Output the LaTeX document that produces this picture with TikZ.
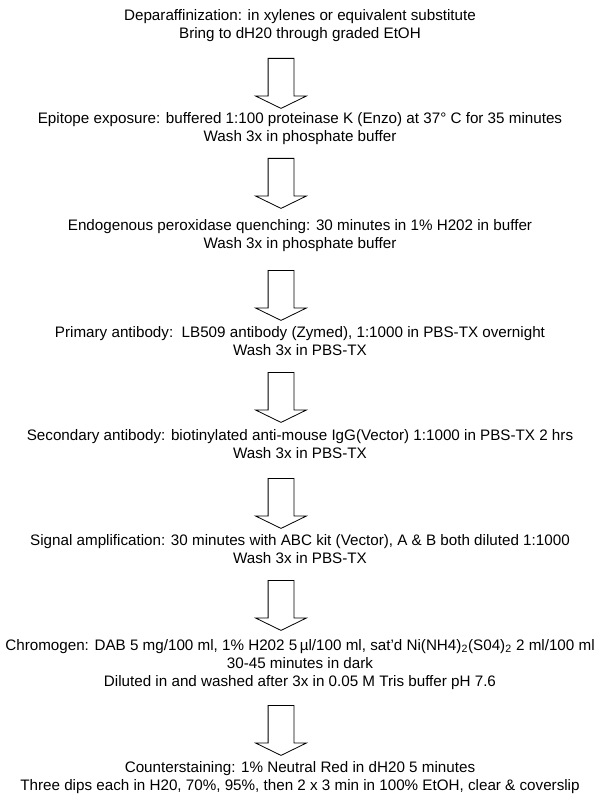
\documentclass[tikz,border=0pt]{standalone}
\usepackage{fontspec}
\setmainfont{Liberation Sans}
\usetikzlibrary{shapes.arrows}

\begin{document}
\begin{tikzpicture}[x=0.75pt,y=-0.75pt,
    stepnode/.style={align=center,inner sep=0pt,anchor=north,
      font=\fontsize{11.4}{13.5}\selectfont},
    downarrow/.style={single arrow,draw,line width=0.6pt,rotate=-90,anchor=tail,
      inner sep=0pt,minimum height=37.5pt,text height=9.375pt,text depth=9.375pt,
      text width=0pt,single arrow head extend=9.375pt,single arrow tip angle=128}]
  \useasboundingbox (0,0) rectangle (600,806);
  \draw
    (300,9) node[stepnode] (dep){Deparaffinization: in xylenes or equivalent substitute\\Bring to dH20 through graded EtOH}
    (300,112) node[stepnode] (epi){Epitope exposure: buffered 1:100 proteinase K (Enzo) at 37° C for 35 minutes\\Wash 3x in phosphate buffer}
    (300,219) node[stepnode] (endo){Endogenous peroxidase quenching: 30 minutes in 1\% H202 in buffer\\Wash 3x in phosphate buffer}
    (300,326) node[stepnode] (prim){Primary antibody:\ \ LB509 antibody (Zymed), 1:1000 in PBS-TX overnight\\Wash 3x in PBS-TX}
    (300,429) node[stepnode] (sec){Secondary antibody: biotinylated anti-mouse IgG(Vector) 1:1000 in PBS-TX 2 hrs\\Wash 3x in PBS-TX}
    (300,534) node[stepnode] (sig){Signal amplification: 30 minutes with ABC kit (Vector), A \& B both diluted 1:1000\\Wash 3x in PBS-TX}
    (300,639) node[stepnode] (chrom){Chromogen: DAB 5 mg/100 ml, 1\% H202 5\,µl/100 ml, sat’d Ni(NH4)\textsubscript{2}(S04)\textsubscript{2} 2 ml/100 ml\\30-45 minutes in dark\\Diluted in and washed after 3x in 0.05 M Tris buffer pH 7.6}
    (300,761) node[stepnode] (count){Counterstaining: 1\% Neutral Red in dH20 5 minutes\\Three dips each in H20, 70\%, 95\%, then 2 x 3 min in 100\% EtOH, clear \& coverslip};
  \node[downarrow] (a1) at (281,58) {};
  \node[downarrow] (a2) at (281,158) {};
  \node[downarrow] (a3) at (281,270) {};
  \node[downarrow] (a4) at (281,372) {};
  \node[downarrow] (a5) at (281,478) {};
  \node[downarrow] (a6) at (281,580) {};
  \node[downarrow] (a7) at (281,705) {};
\end{tikzpicture}
\end{document}
